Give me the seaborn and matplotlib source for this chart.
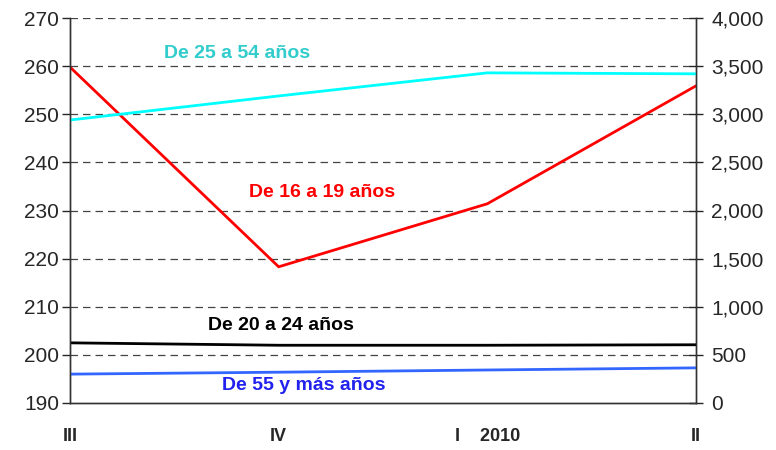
import matplotlib.pyplot as plt
import matplotlib.ticker as ticker
import pandas as pd
import seaborn as sns

quarters = ["III", "IV", "I    2010", "II"]
edad_16_19 = [259.8, 218.3, 231.4, 255.9]
edad_25_54 = [2940, 3190, 3430, 3420]
edad_20_24 = [625, 600, 600, 605]
edad_55_mas = [300, 320, 343, 365]

sns.set_style("white")
plt.rcParams["font.family"] = ["Liberation Sans", "DejaVu Sans"]

x = list(range(len(quarters)))
left_df = pd.DataFrame({"x": x, "v": edad_16_19})
right_df = pd.DataFrame({
    "x": x * 3,
    "v": edad_25_54 + edad_20_24 + edad_55_mas,
    "serie": ["25-54"] * 4 + ["20-24"] * 4 + ["55+"] * 4,
})

fig = plt.figure(figsize=(7.76, 4.5), dpi=100)
ax = fig.add_axes([70 / 776, 47 / 450, 626 / 776, 385 / 450])
ax2 = ax.twinx()

sns.lineplot(data=left_df, x="x", y="v", color="#ff0000", linewidth=2, ax=ax)
palette = {"25-54": "#00ffff", "20-24": "#000000", "55+": "#3366ff"}
sns.lineplot(data=right_df, x="x", y="v", hue="serie", palette=palette,
             linewidth=2, ax=ax2, legend=False)

ax.set_xlim(0, 3)
ax.set_ylim(190, 270)
ax.yaxis.set_major_locator(ticker.MultipleLocator(10))
ax2.set_ylim(0, 4000)
ax2.yaxis.set_major_locator(ticker.MultipleLocator(500))
ax2.yaxis.set_major_formatter(ticker.FuncFormatter(lambda v, p: f"{int(v):,}"))

# dashed guides at each left-axis tick
for y in range(200, 271, 10):
    ax.axhline(y, color="#444444", linestyle=(0, (6, 4)), linewidth=0.9, zorder=0)

ax.set_xticks(x)
ax.set_xticklabels(quarters, fontweight="bold", fontsize=13)
ax.set_xlabel("")
ax.set_ylabel("")
ax2.set_ylabel("")
ax.tick_params(axis="y", labelsize=15, length=6, width=1, direction="out", pad=2)
ax.tick_params(axis="x", length=7, width=1, direction="out", pad=11)
ax2.tick_params(axis="y", labelsize=15, length=10, width=1, direction="inout", pad=6)

for a in (ax, ax2):
    a.spines["top"].set_visible(False)
    for s in ("left", "right", "bottom"):
        a.spines[s].set_color("#333333")
        a.spines[s].set_linewidth(1)

lab = dict(fontweight="bold", fontsize=14, ha="center", va="center")
ax.text(0.80, 262.7, "De 25 a 54 años", color="#33cccc", **lab)
ax.text(1.21, 233.8, "De 16 a 19 años", color="#ff0000", **lab)
ax.text(1.01, 206.0, "De 20 a 24 años", color="#000000", **lab)
ax.text(1.12, 193.7, "De 55 y más años", color="#2222ee", **lab)

fig.savefig("out.png", dpi=100)
